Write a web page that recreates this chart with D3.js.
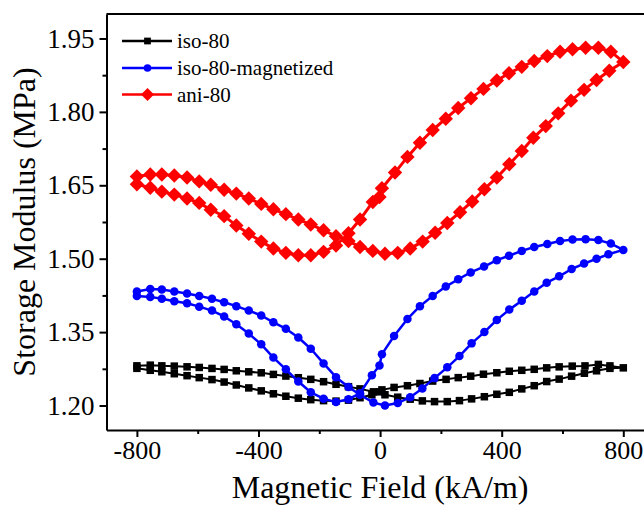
<!DOCTYPE html>
<html>
<head>
<meta charset="utf-8">
<script src="https://cdn.jsdelivr.net/npm/d3@7"></script>
<style>
  html, body { margin: 0; padding: 0; background: #fff; }
  svg { display: block; }
  text { font-family: "Liberation Serif", "Times New Roman", serif; fill: #000; }
</style>
</head>
<body>
<svg id="chart" width="644" height="506"></svg>
<script>
// ---- data ----
// iso-80 : loop, field sweep up (-800 -> 800) then down (800 -> -800)
const isoFieldUp = [-800,-756,-718,-677,-635,-595,-553,-513,-473,-432,-391,-351,-310,-269,-228,-186,-145,-104,-66,-27,-2,6,46,90,131,173,217,257,298,340,384,425,466,507,548,589,632,674,718,756,800];
const isoModUp   = [1.276,1.272,1.269,1.265,1.261,1.257,1.253,1.248,1.242,1.236,1.230,1.224,1.219,1.215,1.212,1.210,1.209,1.211,1.216,1.222,1.228,1.232,1.237,1.2405,1.245,1.250,1.2535,1.257,1.260,1.264,1.267,1.270,1.272,1.274,1.277,1.279,1.2805,1.281,1.284,1.281,1.277];
const isoFieldDown = [756,712,672,630,589,548,507,466,425,384,343,301,261,221,179,139,99,58,16,-22,-66,-104,-145,-186,-228,-269,-310,-351,-391,-432,-473,-513,-553,-595,-635,-677,-718,-756,-800];
const isoModDown   = [1.276,1.271,1.266,1.260,1.254,1.249,1.2405,1.234,1.227,1.223,1.218,1.2136,1.210,1.208,1.208,1.2095,1.213,1.217,1.222,1.228,1.234,1.2385,1.2434,1.2487,1.2535,1.2568,1.2602,1.2636,1.2669,1.2689,1.271,1.2738,1.2758,1.2778,1.2791,1.2805,1.2811,1.2825,1.2811];

// iso-80-magnetized
const magFieldUp = [-800,-756,-718,-677,-635,-595,-553,-513,-473,-432,-391,-351,-310,-269,-228,-186,-145,-104,-66,-27,-2,6,46,90,131,173,216,257,298,342,384,424,466,507,550,592,633,676,718,759,800];
const magModUp   = [1.424,1.422,1.418,1.413,1.409,1.402,1.394,1.382,1.366,1.347,1.325,1.298,1.274,1.249,1.227,1.214,1.207,1.213,1.225,1.262,1.282,1.305,1.342,1.377,1.403,1.424,1.443,1.458,1.472,1.484,1.497,1.506,1.516,1.524,1.530,1.536,1.539,1.540,1.538,1.531,1.518];
const magFieldDown = [751,712,671,630,589,548,507,466,425,384,343,301,261,221,179,139,99,58,16,-22,-66,-104,-145,-186,-228,-269,-310,-351,-391,-432,-473,-513,-553,-595,-635,-677,-718,-756,-800];
const magModDown   = [1.509,1.500,1.490,1.479,1.464,1.451,1.433,1.414,1.396,1.375,1.350,1.327,1.301,1.278,1.256,1.235,1.217,1.205,1.200,1.206,1.222,1.238,1.258,1.286,1.316,1.339,1.357,1.370,1.384,1.394,1.403,1.411,1.418,1.424,1.429,1.433,1.437,1.438,1.433];

// ani-80
const aniFieldUp = [-800,-756,-718,-677,-635,-595,-557,-513,-473,-432,-391,-351,-310,-269,-228,-186,-145,-104,-66,-24,-2,6,49,90,131,173,216,257,299,340,384,424,466,507,550,592,633,676,718,759,800];
const aniModUp   = [1.652,1.645,1.637,1.631,1.623,1.614,1.600,1.587,1.568,1.551,1.535,1.521,1.512,1.507,1.507,1.514,1.527,1.552,1.580,1.616,1.626,1.644,1.676,1.708,1.737,1.763,1.786,1.808,1.828,1.847,1.864,1.879,1.892,1.904,1.914,1.923,1.928,1.931,1.931,1.923,1.902];
const aniFieldDown = [754,712,671,628,586,545,504,466,425,384,343,303,263,221,181,140,99,58,16,-24,-66,-104,-145,-186,-228,-269,-310,-351,-391,-432,-473,-513,-557,-595,-635,-677,-718,-756,-800];
const aniModDown   = [1.884,1.865,1.845,1.823,1.797,1.771,1.747,1.720,1.693,1.666,1.642,1.617,1.595,1.573,1.553,1.535,1.521,1.512,1.510,1.516,1.524,1.536,1.546,1.558,1.570,1.580,1.591,1.601,1.612,1.623,1.633,1.641,1.651,1.658,1.666,1.670,1.672,1.672,1.668];

const seriesNames = ["iso-80", "iso-80-magnetized", "ani-80"];
const seriesColors = ["#000000", "#0000ff", "#ff0000"];
const xTicks = [-800, -400, 0, 400, 800];
const xTickLabels = ["-800", "-400", "0", "400", "800"];
const xMinorTicks = [-600, -200, 200, 600];
const yTicks = [1.20, 1.35, 1.50, 1.65, 1.80, 1.95];
const yTickLabels = ["1.20", "1.35", "1.50", "1.65", "1.80", "1.95"];
const yMinorTicks = [1.275, 1.425, 1.575, 1.725, 1.875];
const xTitle = "Magnetic Field (kA/m)";
const yTitle = "Storage Modulus (MPa)";

// ---- build ----
function loop(fu, mu, fd, md) {
  const a = fu.map((f, i) => ({ x: f, y: mu[i] }));
  const b = fd.map((f, i) => ({ x: f, y: md[i] }));
  return a.concat(b);
}
const series = [
  { name: seriesNames[0], color: seriesColors[0], shape: "square",  pts: loop(isoFieldUp, isoModUp, isoFieldDown, isoModDown) },
  { name: seriesNames[1], color: seriesColors[1], shape: "circle",  pts: loop(magFieldUp, magModUp, magFieldDown, magModDown) },
  { name: seriesNames[2], color: seriesColors[2], shape: "diamond", pts: loop(aniFieldUp, aniModUp, aniFieldDown, aniModDown) }
];

const svg = d3.select("#chart");
const pL = 106.5, pR = 653.7, pT = 14, pB = 430;
const x = d3.scaleLinear().domain([-900, 900]).range([pL, pR]);
const y = d3.scaleLinear().domain([1.15, 2.0]).range([pB, pT]);

// axes
const gx = svg.append("g").attr("transform", `translate(0,${pB})`)
  .call(d3.axisBottom(x).tickValues(xTicks).tickSize(7).tickSizeOuter(0).tickPadding(4)
    .tickFormat((d, i) => xTickLabels[i]));
gx.selectAll("text").attr("font-size", 26);
const gxm = svg.append("g").attr("transform", `translate(0,${pB})`)
  .call(d3.axisBottom(x).tickValues(xMinorTicks).tickSize(4).tickFormat(""));
gxm.select(".domain").remove();

const gy = svg.append("g").attr("transform", `translate(${pL},0)`)
  .call(d3.axisLeft(y).tickValues(yTicks).tickSize(7).tickSizeOuter(0).tickPadding(5)
    .tickFormat((d, i) => yTickLabels[i]));
gy.selectAll("text").attr("font-size", 27);
const gym = svg.append("g").attr("transform", `translate(${pL},0)`)
  .call(d3.axisLeft(y).tickValues(yMinorTicks).tickSize(4).tickFormat(""));
gym.select(".domain").remove();

svg.selectAll(".domain, .tick line").attr("stroke", "#000").attr("stroke-width", 2);
svg.selectAll(".tick text").attr("font-family", "Liberation Serif, Times New Roman, serif").attr("fill", "#000");

// top frame line
svg.append("line").attr("x1", pL).attr("x2", pR).attr("y1", pT).attr("y2", pT)
  .attr("stroke", "#000").attr("stroke-width", 2);

// titles
svg.append("text").attr("x", x(0)).attr("y", 498).attr("text-anchor", "middle")
  .attr("font-size", 32).text(xTitle);
svg.append("text").attr("transform", `translate(35,${(y(1.15) + y(2.0)) / 2}) rotate(-90)`)
  .attr("text-anchor", "middle").attr("font-size", 32).text(yTitle);

// markers
function marker(g, shape, color, s) {
  if (shape === "square") {
    g.append("rect").attr("x", -s / 2).attr("y", -s / 2).attr("width", s).attr("height", s).attr("fill", color);
  } else if (shape === "circle") {
    g.append("circle").attr("r", s / 2).attr("fill", color);
  } else {
    const h = s * 0.72;
    g.append("path").attr("d", `M0,${-h}L${h},0L0,${h}L${-h},0Z`).attr("fill", color);
  }
}
const sizes = { square: 7.5, circle: 8.5, diamond: 10 };
const widths = { square: 2, circle: 2.5, diamond: 3 };

const line = d3.line().x(d => x(d.x)).y(d => y(d.y));
series.forEach(s => {
  const g = svg.append("g");
  g.append("path").attr("d", line(s.pts)).attr("fill", "none")
    .attr("stroke", s.color).attr("stroke-width", widths[s.shape]).attr("stroke-linejoin", "round");
  g.selectAll("g.pt").data(s.pts).enter().append("g").attr("class", "pt")
    .attr("transform", d => `translate(${x(d.x)},${y(d.y)})`)
    .each(function () { marker(d3.select(this), s.shape, s.color, sizes[s.shape]); });
});

// legend
const legRows = [41, 68, 94.5];
series.forEach((s, i) => {
  const g = svg.append("g").attr("transform", `translate(0,${legRows[i]})`);
  g.append("line").attr("x1", 122).attr("x2", 172).attr("y1", 0).attr("y2", 0)
    .attr("stroke", s.color).attr("stroke-width", 2.5);
  const m = g.append("g").attr("transform", "translate(147.5,0)");
  marker(m, s.shape, s.color, sizes[s.shape] * 0.9);
  g.append("text").attr("x", 177).attr("y", 7).attr("font-size", 21).text(s.name);
});
</script>
</body>
</html>
